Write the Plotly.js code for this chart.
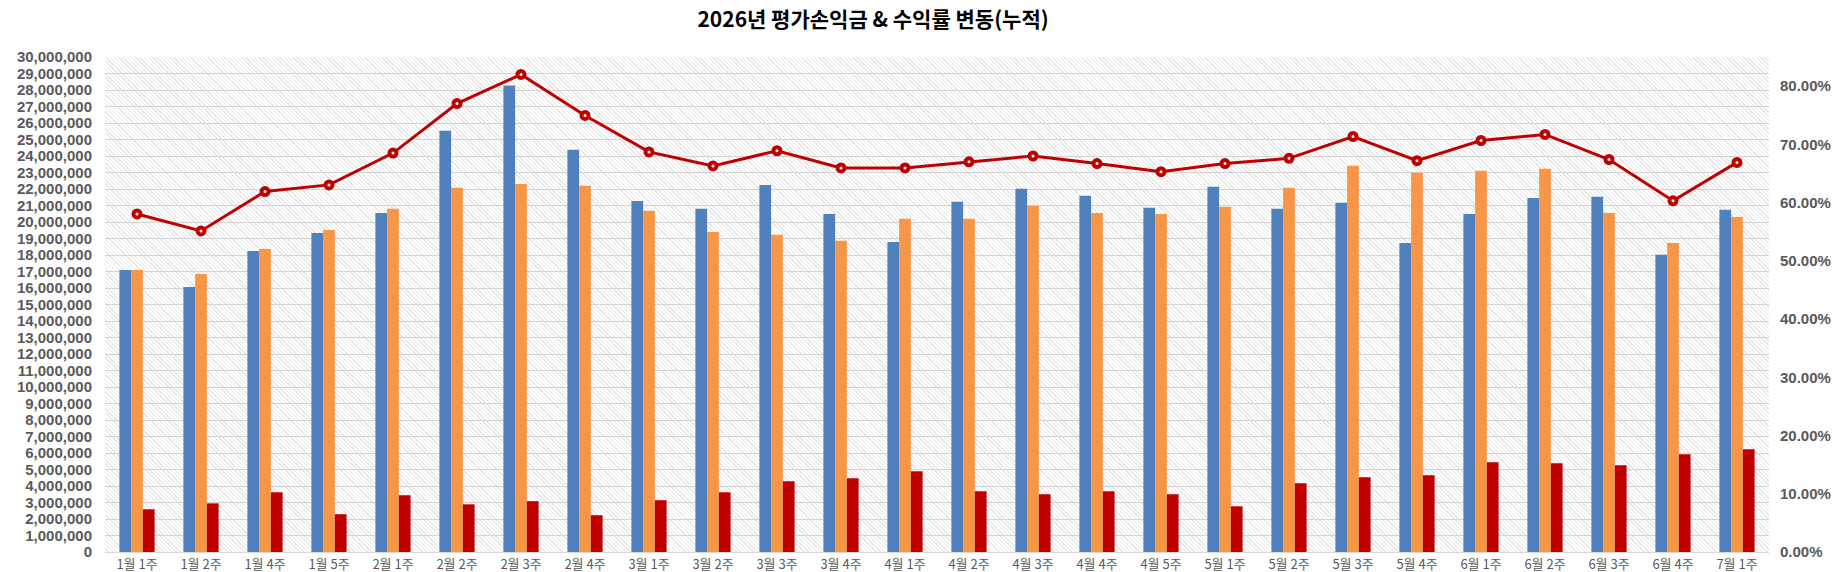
<!DOCTYPE html>
<html>
<head>
<meta charset="utf-8">
<script src="https://cdn.plot.ly/plotly-3.0.1.min.js"></script>
<style>
  html, body { margin: 0; padding: 0; background: #ffffff; }
  #wrap { position: relative; width: 1840px; height: 572px; }
  /* hatched plot background, sits behind the transparent plot area */
  #hatch {
    position: absolute; left: 105px; top: 57px; width: 1664px; height: 495px;
    background: repeating-linear-gradient(45deg, #ffffff 0px, #ffffff 2px, #e6e6e6 2px, #e6e6e6 3px);
  }
  #chart { position: absolute; left: 0; top: 0; width: 1840px; height: 572px; }
</style>
</head>
<body>
<div id="wrap">
  <div id="hatch"></div>
  <div id="chart"></div>
</div>
<script>
// ------------------------------
// data
// ------------------------------
var weeks = ['1월 1주', '1월 2주', '1월 4주', '1월 5주', '2월 1주', '2월 2주', '2월 3주', '2월 4주',
  '3월 1주', '3월 2주', '3월 3주', '3월 4주', '4월 1주', '4월 2주', '4월 3주', '4월 4주', '4월 5주',
  '5월 1주', '5월 2주', '5월 3주', '5월 4주', '6월 1주', '6월 2주', '6월 3주', '6월 4주', '7월 1주'];

// blue bars
var blueVals = [17090000, 16060000, 18250000, 19340000, 20550000, 25530000, 28280000, 24380000,
  21280000, 20800000, 22250000, 20490000, 18790000, 21220000, 22010000, 21590000, 20860000,
  22130000, 20800000, 21160000, 18730000, 20490000, 21460000, 21530000, 18010000, 20740000];

// orange bars
var orangeVals = [17090000, 16850000, 18370000, 19520000, 20800000, 22070000, 22310000, 22190000,
  20680000, 19400000, 19220000, 18860000, 20190000, 20190000, 20980000, 20550000, 20490000,
  20920000, 22070000, 23410000, 22980000, 23100000, 23220000, 20550000, 18730000, 20310000];

// red bars (평가손익금)
var redVals = [2590000, 2950000, 3620000, 2290000, 3440000, 2890000, 3080000, 2230000,
  3140000, 3620000, 4290000, 4470000, 4900000, 3680000, 3500000, 3680000, 3500000,
  2770000, 4170000, 4530000, 4650000, 5440000, 5380000, 5260000, 5930000, 6230000];

// red line (수익률), right axis
var rateVals = [0.5805, 0.5513, 0.619, 0.6304, 0.685, 0.770, 0.820, 0.7496,
  0.687, 0.663, 0.689, 0.6596, 0.6596, 0.670, 0.680, 0.667, 0.653,
  0.667, 0.676, 0.7135, 0.672, 0.7066, 0.717, 0.674, 0.603, 0.669];

// ------------------------------
// traces
// ------------------------------
var blue = { x: weeks, y: blueVals, type: 'bar', name: '평가금액', marker: { color: '#4f81bd' } };
var orange = { x: weeks, y: orangeVals, type: 'bar', name: '매입금액', marker: { color: '#f79646' } };
var red = { x: weeks, y: redVals, type: 'bar', name: '평가손익금', marker: { color: '#c00000' } };
var rate = {
  x: weeks, y: rateVals, type: 'scatter', mode: 'lines+markers', name: '수익률', yaxis: 'y2',
  line: { color: '#c00000', width: 3 },
  marker: { symbol: 'circle', size: 7, color: '#ffffff', line: { color: '#c00000', width: 4 } }
};

var tickFont = { family: 'Liberation Sans, Arial, sans-serif', size: 15, color: '#595959', weight: 'bold' };

var layout = {
  width: 1840, height: 572,
  margin: { l: 105, r: 71, t: 57, b: 20 },
  paper_bgcolor: 'rgba(0,0,0,0)',
  plot_bgcolor: 'rgba(0,0,0,0)',
  showlegend: false,
  barmode: 'group',
  bargap: 0.45,
  bargroupgap: 0,
  title: {
    text: '2026년 평가손익금 & 수익률 변동(누적)',
    font: { family: 'Noto Sans CJK KR, sans-serif', size: 21, color: '#000000', weight: 'bold' },
    x: 0.4745, xref: 'container', xanchor: 'center',
    y: 0.965, yref: 'container', yanchor: 'middle'
  },
  xaxis: {
    type: 'category',
    range: [-0.5, weeks.length - 0.5],
    showgrid: false,
    showline: true, linecolor: '#d9d9d9', linewidth: 1,
    ticks: '',
    tickfont: { family: 'Noto Sans CJK KR, sans-serif', size: 13, color: '#595959' },
    fixedrange: true
  },
  yaxis: {
    range: [0, 30000000],
    dtick: 1000000,
    tickformat: ',d',
    showgrid: true, gridcolor: '#d4d4d4', gridwidth: 1,
    zeroline: false, showline: false,
    ticks: '',
    ticklabelstandoff: 12,
    tickfont: tickFont,
    fixedrange: true
  },
  yaxis2: {
    overlaying: 'y', side: 'right',
    range: [0, 0.85],
    dtick: 0.1,
    tickformat: '.2%',
    showgrid: false, zeroline: false, showline: false,
    ticks: '',
    ticklabelstandoff: 10,
    tickfont: tickFont,
    fixedrange: true
  }
};

Plotly.newPlot('chart', [blue, orange, red, rate], layout, { displayModeBar: false, staticPlot: true });
</script>
</body>
</html>
